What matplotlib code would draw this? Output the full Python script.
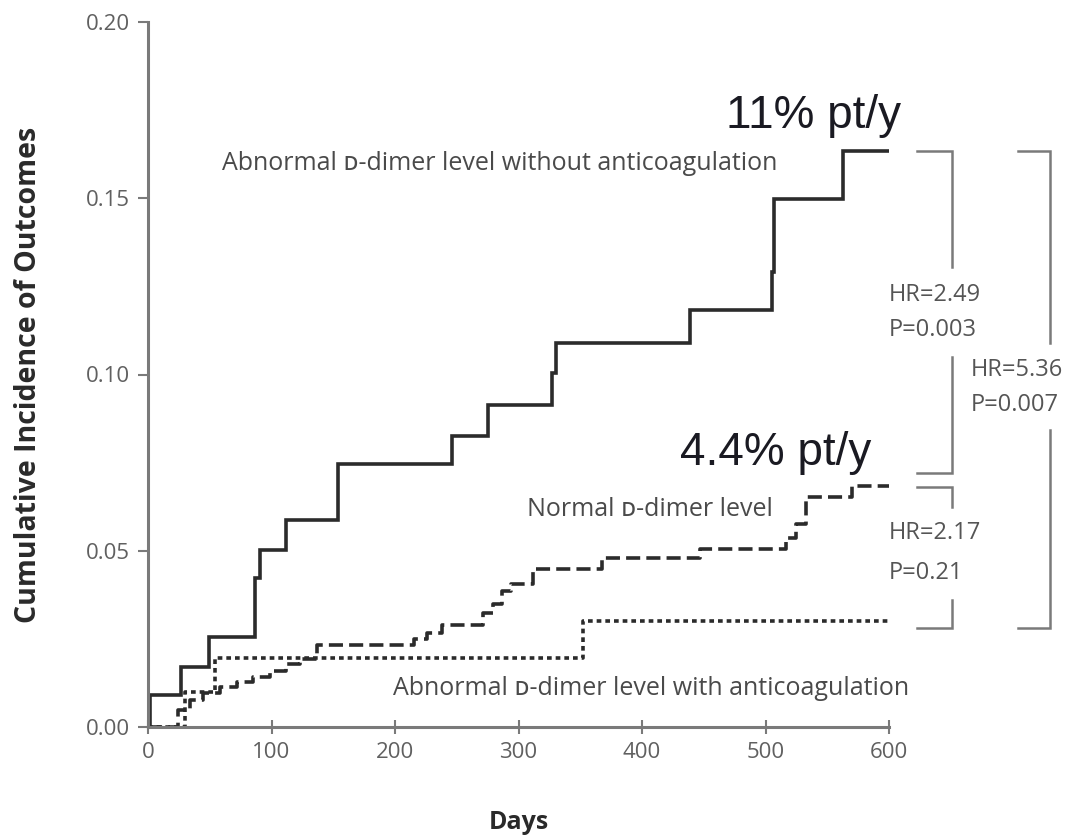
import matplotlib
matplotlib.use("Agg")
import matplotlib.pyplot as plt

# Kaplan-Meier style cumulative incidence
solid_days = [0, 2, 26.5, 49, 87, 91, 111.5, 153.6, 246, 275, 327, 330, 439, 505, 507, 563, 600]
solid_vals = [0, 0.009, 0.017, 0.0254, 0.0424, 0.0503, 0.0586, 0.0746, 0.0826, 0.0914,
              0.1003, 0.1088, 0.1182, 0.129, 0.1497, 0.1635, 0.1635]

normal_days = [0, 24, 34, 44.5, 58, 72, 85, 99, 112, 123, 137, 215, 226, 238, 271, 279,
               287, 294, 312, 368, 447, 517, 525, 533, 570, 600]
normal_vals = [0, 0.0048, 0.0076, 0.0096, 0.0113, 0.0127, 0.0141, 0.0158, 0.018, 0.0192,
               0.0232, 0.0251, 0.0268, 0.0288, 0.0322, 0.035, 0.0387, 0.0407, 0.0449,
               0.048, 0.0506, 0.0536, 0.0577, 0.0652, 0.0685, 0.0685]

anticoag_days = [0, 30, 54, 352, 600]
anticoag_vals = [0, 0.0098, 0.0197, 0.0302, 0.0302]

x_ticks = [0, 100, 200, 300, 400, 500, 600]
y_ticks = [0.00, 0.05, 0.10, 0.15, 0.20]

W, H = 1078, 839
LABEL_FONT = ["Open Sans", "DejaVu Sans"]
GREY = "#555555"
LINE = "#2b2b2b"
AXC = "#7a7a7a"

fig = plt.figure(figsize=(W / 100, H / 100), dpi=100)
ax = fig.add_axes([148 / W, (H - 727) / H, 741 / W, 705 / H])

ax.plot(solid_days, solid_vals, drawstyle="steps-post", color=LINE, lw=2.6,
        solid_joinstyle="miter")
ax.plot(normal_days, normal_vals, drawstyle="steps-post", color=LINE, lw=2.6,
        linestyle=(0, (3.9, 1.7)))
ax.plot(anticoag_days, anticoag_vals, drawstyle="steps-post", color=LINE, lw=2.6,
        linestyle=(0, (1.3, 1.1)))

ax.set_xlim(0, 600)
ax.set_ylim(0, 0.2)
ax.set_xticks(x_ticks)
ax.set_yticks(y_ticks)
ax.set_yticklabels([f"{v:.2f}" for v in y_ticks])
for s in ("top", "right"):
    ax.spines[s].set_visible(False)
for s in ("left", "bottom"):
    ax.spines[s].set_color(AXC)
    ax.spines[s].set_linewidth(2.2)
ax.tick_params(axis="y", direction="out", length=7, width=1.5, color=AXC,
               labelsize=16, labelcolor="#606060", pad=6)
ax.tick_params(axis="x", direction="inout", length=10, width=1.5, color=AXC,
               labelsize=16, labelcolor="#606060", pad=6)
for t in ax.get_xticklabels() + ax.get_yticklabels():
    t.set_family(LABEL_FONT)

ax.set_xlabel("Days", fontsize=18, fontweight="bold", color="#2a2a2a", family=LABEL_FONT)
ax.set_ylabel("Cumulative Incidence of Outcomes", fontsize=20.5, fontweight="bold",
              color="#2a2a2a", family=LABEL_FONT)
ax.xaxis.set_label_coords(0.5, -0.118)
ax.yaxis.set_label_coords(-0.142, 0.5)

# curve labels
lab = dict(fontsize=18, color="#4a4a4a", family=LABEL_FONT, va="center", clip_on=False)
ax.text(60, 0.160, "Abnormal ᴅ-dimer level without anticoagulation", **lab)
ax.text(307, 0.0616, "Normal ᴅ-dimer level", **lab)
ax.text(198, 0.011, "Abnormal ᴅ-dimer level with anticoagulation", **lab)

# event rates
big = dict(fontsize=33, color="#1a1a22", family=["Liberation Sans", "DejaVu Sans"],
           va="baseline", ha="left")
fig.text(726 / W, 1 - 128 / H, "11% pt/y", **big)
fig.text(680 / W, 1 - 465 / H, "4.4% pt/y", **big)

# comparison brackets
top = solid_vals[-1]
mid = normal_vals[-1]
low = anticoag_vals[-1] - 0.002
bk = dict(color=AXC, lw=1.8, clip_on=False, solid_joinstyle="miter")


def bracket(x0, x1, y_top, y_bot, gap_lo, gap_hi):
    ax.plot([x0, x1, x1], [y_top, y_top, gap_hi], **bk)
    ax.plot([x1, x1, x0], [gap_lo, y_bot, y_bot], **bk)


bracket(623, 651, top, mid + 0.0035, 0.105, 0.1305)
bracket(623, 651, mid - 0.0005, low, 0.036, 0.0624)
bracket(704.5, 730, top, low, 0.0843, 0.109)

hr = dict(fontsize=17, color=GREY, family=LABEL_FONT, va="center", ha="left", clip_on=False)
ax.text(600, 0.1225, "HR=2.49", **hr)
ax.text(600, 0.1126, "P=0.003", **hr)
ax.text(666, 0.1013, "HR=5.36", **hr)
ax.text(666, 0.0913, "P=0.007", **hr)
ax.text(600, 0.055, "HR=2.17", **hr)
ax.text(600, 0.0437, "P=0.21", **hr)

fig.savefig("out.png", dpi=100)
